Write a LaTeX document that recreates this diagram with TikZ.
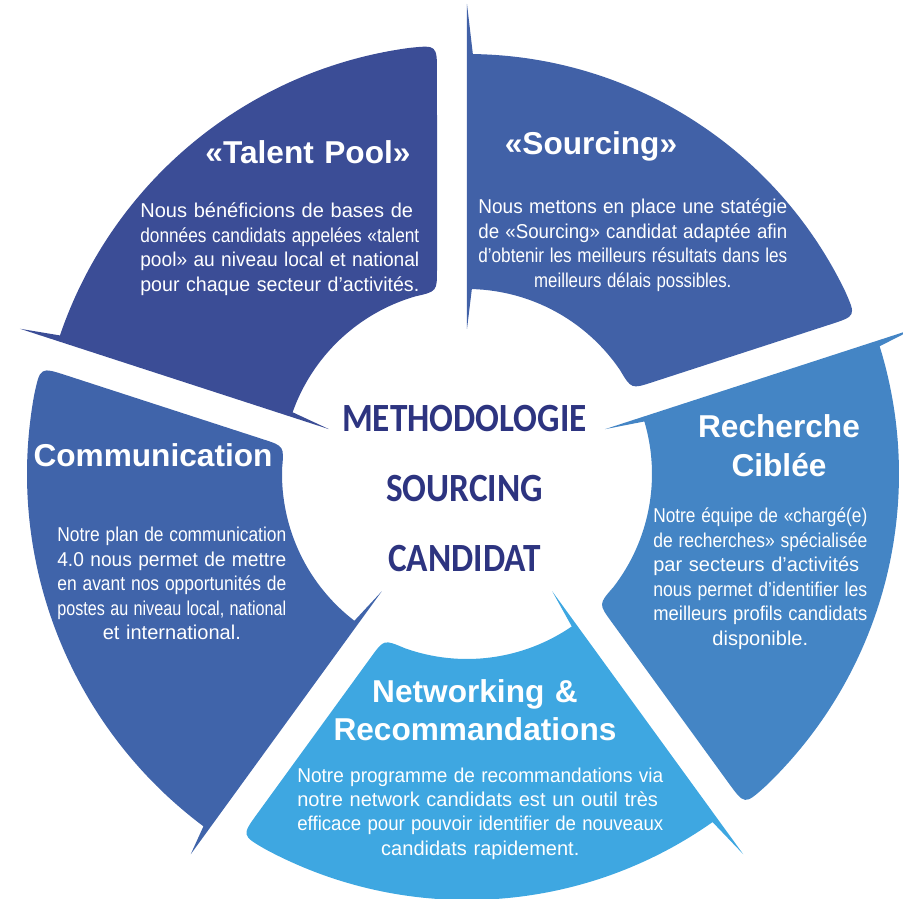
\documentclass[tikz,border=0pt]{standalone}
\usepackage{fontspec}
\setmainfont{Liberation Sans}
\newfontfamily\carlito{Carlito}
\usetikzlibrary{calc}

\definecolor{talentblue}{HTML}{3B4D96}
\definecolor{sourceblue}{HTML}{4161A7}
\definecolor{searchblue}{HTML}{4485C5}
\definecolor{networkblue}{HTML}{3EA7E1}
\definecolor{commblue}{HTML}{4064AA}
\definecolor{methodnavy}{HTML}{2D3480}

% ligne justifiee sur toute la largeur (ou serree si trop longue)
\newlength\fitw
\newcommand\fitline[1]{\settowidth\fitw{#1}%
  \ifdim\fitw>\linewidth\resizebox{\linewidth}{\height}{#1}\else\makebox[\linewidth][s]{#1}\fi}

\begin{document}
\begin{tikzpicture}[x=0.02cm, y=0.02cm,
    title/.style={text=white, font=\fontsize{18}{22}\selectfont\bfseries,
      inner sep=0pt, text width=6.4cm, align=center, anchor=base},
    body/.style={text=white, font=\fontsize{11.4}{13.9}\selectfont,
      inner sep=0pt, align=center, anchor=base west},
    method/.style={text=methodnavy, font=\carlito\bfseries\fontsize{22.8}{39.8}\selectfont,
      inner sep=0pt, text width=8cm, align=center, anchor=base}]
    % Rayon interieur et ecart entre segments
    \def\rin{185}
    \def\gap{30}

    \useasboundingbox (-467,-425) rectangle (436,474);

    % Segments (angle du bord droit / rayon exterieur / couleur)
    \foreach \sa/\rout/\col in {90/420/sourceblue, 18/432/searchblue, -54/426/networkblue,
                                -126/440/commblue, 162/430/talentblue}
    {
        \pgfmathsetmacro{\ea}{\sa-72}
        \pgfmathsetmacro{\ain}{asin(\gap/\rin)}
        \pgfmathsetmacro{\aout}{asin(\gap/\rout)}

        \fill[\col] (\sa:470) -- (\sa:145) -- (\sa-1.5:\rin)
            arc[start angle=\sa-1.5, end angle=\ea+\ain+7, radius=\rin]
            .. controls (\ea+\ain:\rin) .. ($(\ea+\ain:\rin)+(\ea:22)$)
            -- ($(\ea+\aout:\rout)-(\ea:28)$)
            .. controls (\ea+\aout:\rout) .. (\ea+\aout+3.7:\rout)
            arc[start angle=\ea+\aout+3.7, end angle=\sa-0.8, radius=\rout]
            -- cycle;
    }

    % Centre
    \node[method] (method) at (-2.5,42)
        {\scalebox{0.88}[1]{METHODOLOGIE}\\ \scalebox{0.88}[1]{SOURCING}\\ \scalebox{0.88}[1]{CANDIDAT}};

    % Titres
    \node[title] (talent) at (-159,310) {«Talent Pool»};
    \node[title] (sourcing) at (124,319) {«Sourcing»};
    \node[title] (search) at (312,36) {Recherche\\Ciblée};
    \node[title] (network) at (8,-228) {Networking \&\\Recommandations};
    \node[title] (comm) at (-314,7) {Communication};

    % Textes
    \node[body, text width=5.58cm] (talenttxt) at (-327,256) {%
        \fitline{Nous bénéficions de bases de}\\
        \fitline{données candidats appelées «talent}\\
        \fitline{pool» au niveau local et national}\\
        \fitline{pour chaque secteur d’activités.}};
    \node[body, text width=6.18cm] (sourcingtxt) at (11,260) {%
        \fitline{Nous mettons en place une statégie}\\
        \fitline{de «Sourcing» candidat adaptée afin}\\
        \fitline{d’obtenir les meilleurs résultats dans les}\\
        \scalebox{0.84}[1]{meilleurs délais possibles.}};
    \node[body, text width=4.28cm] (searchtxt) at (186,-49) {%
        \fitline{Notre équipe de «chargé(e)}\\
        \fitline{de recherches» spécialisée}\\
        \fitline{par secteurs d’activités}\\
        \fitline{nous permet d’identifier les}\\
        \fitline{meilleurs profils candidats}\\
        disponible.};
    \node[body, text width=4.58cm] (commtxt) at (-410,-68) {%
        \fitline{Notre plan de communication}\\
        \fitline{4.0 nous permet de mettre}\\
        \fitline{en avant nos opportunités de}\\
        \fitline{postes au niveau local, national}\\
        et international.};
    \node[body, text width=7.32cm] (networktxt) at (-170,-308) {%
        \fitline{Notre programme de recommandations via}\\
        \fitline{notre network candidats est un outil très}\\
        \fitline{efficace pour pouvoir identifier de nouveaux}\\
        candidats rapidement.};
\end{tikzpicture}
\end{document}
